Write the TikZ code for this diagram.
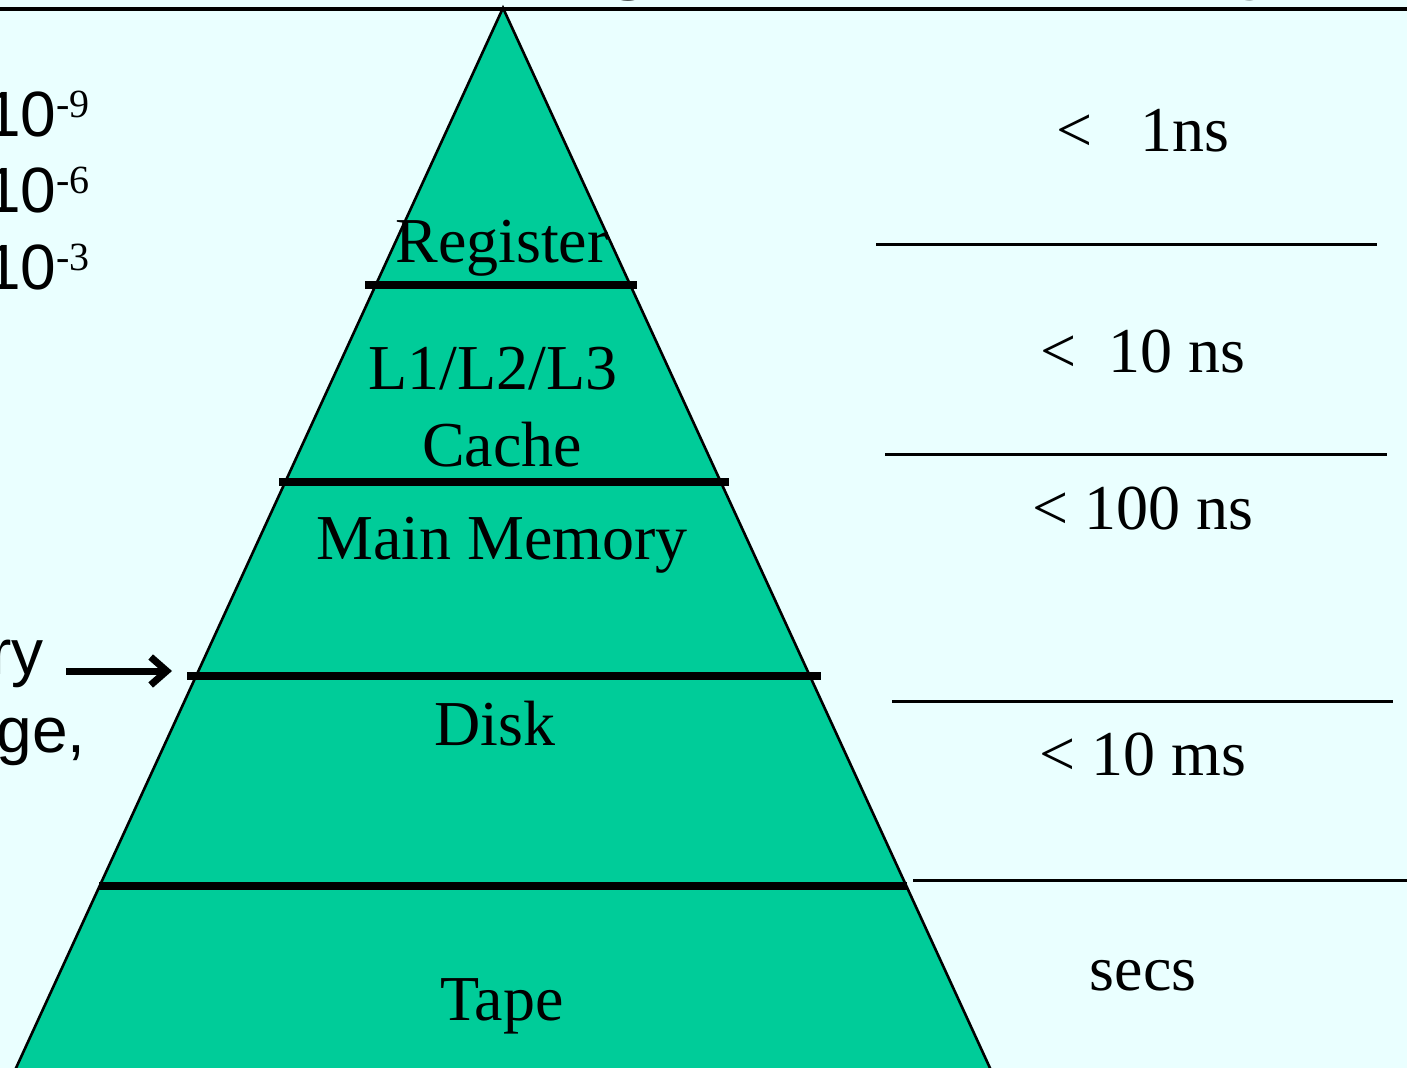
\documentclass[tikz,border=0pt]{standalone}
\usepackage{fontspec}
\setmainfont{Liberation Serif}
\setsansfont{Liberation Sans}
\usetikzlibrary{arrows.meta}
\definecolor{bgc}{RGB}{234,255,255}
\definecolor{pyr}{RGB}{0,204,153}
\newcommand\bigfont{\fontsize{32}{38}\selectfont}
\newcommand\supfont{\fontsize{20}{24}\selectfont\rmfamily}
\newcommand\titlefont{\fontsize{44}{52}\selectfont\sffamily\bfseries}
\newcommand\pw[1]{{\sffamily 10}\raisebox{9.5pt}{\supfont #1}}
\begin{document}
\begin{tikzpicture}[x=0.5pt,y=-0.5pt,
  lbl/.style={inner sep=0pt, anchor=base, font=\bigfont},
  sidelbl/.style={inner sep=0pt, font=\bigfont\sffamily},
  level/.style={line width=4pt},
  sep/.style={line width=1.5pt},
  pyramid/.style={fill=pyr, draw=black, line width=1.3pt, line join=miter},
  titlebit/.style={inner sep=0pt, anchor=base west, font=\titlefont},
]
\useasboundingbox[fill=bgc] (0,0) rectangle (1407,1068);

% cut-off title above the rule
\node[titlebit] (tg) at (602,-17) {g};
\node[titlebit] (ty) at (1238,-17) {y};
\coordinate (tl) at (0,9);
\coordinate (tr) at (1407,9);
\draw[line width=2pt] (tl) -- (tr);

% pyramid
\coordinate (apex) at (503,8);
\coordinate (bl) at (12.8,1075);
\coordinate (br) at (993.2,1075);
\draw[pyramid] (apex) -- (br) -- (bl) -- cycle;

% level lines
\coordinate (l1a) at (365,285); \coordinate (l1b) at (637,285);
\coordinate (l2a) at (279,482); \coordinate (l2b) at (729,482);
\coordinate (l3a) at (187,676); \coordinate (l3b) at (821,676);
\coordinate (l4a) at (99,886);  \coordinate (l4b) at (907,886);
\draw[level] (l1a) -- (l1b);
\draw[level] (l2a) -- (l2b);
\draw[level] (l3a) -- (l3b);
\draw[level] (l4a) -- (l4b);

% pyramid labels
\node[lbl] (reg)   at (502,263)  {Register};
\node[lbl] (l123)  at (493,390)  {L1/L2/L3};
\node[lbl] (cache) at (502,467)  {Cache};
\node[lbl] (mm)    at (502,560)  {Main Memory};
\node[lbl] (disk)  at (495,745)  {Disk};
\node[lbl] (tape)  at (502,1020) {Tape};

% right separators
\coordinate (s1a) at (876,245);  \coordinate (s1b) at (1377,245);
\coordinate (s2a) at (885,455);  \coordinate (s2b) at (1387,455);
\coordinate (s3a) at (892,701);  \coordinate (s3b) at (1393,701);
\coordinate (s4a) at (913,880);  \coordinate (s4b) at (1407,880);
\draw[sep] (s1a) -- (s1b);
\draw[sep] (s2a) -- (s2b);
\draw[sep] (s3a) -- (s3b);
\draw[sep] (s4a) -- (s4b);

% right labels
\node[lbl] (t1) at (1143,152) {<~~~1ns};
\node[lbl] (t2) at (1143,373) {<~~10 ns};
\node[lbl] (t3) at (1143,530) {< 100 ns};
\node[lbl] (t4) at (1143,775) {< 10 ms};
\node[lbl] (t5) at (1143,990) {secs};

% left labels (cut off at the page edge)
\node[sidelbl, anchor=base west] (e9) at (-15,137) {\pw{-9}};
\node[sidelbl, anchor=base west] (e6) at (-15,213) {\pw{-6}};
\node[sidelbl, anchor=base west] (e3) at (-15,290) {\pw{-3}};
\node[sidelbl, anchor=base east] (ry) at (44,675) {ry};
\node[sidelbl, anchor=base east] (ge) at (86,752) {ge,};

% arrow
\coordinate (atail) at (66,671);
\coordinate (ahead) at (172,671);
\draw[line width=3.5pt, -{Straight Barb[length=8pt,width=14pt]}] (atail) -- (ahead);
\end{tikzpicture}
\end{document}
